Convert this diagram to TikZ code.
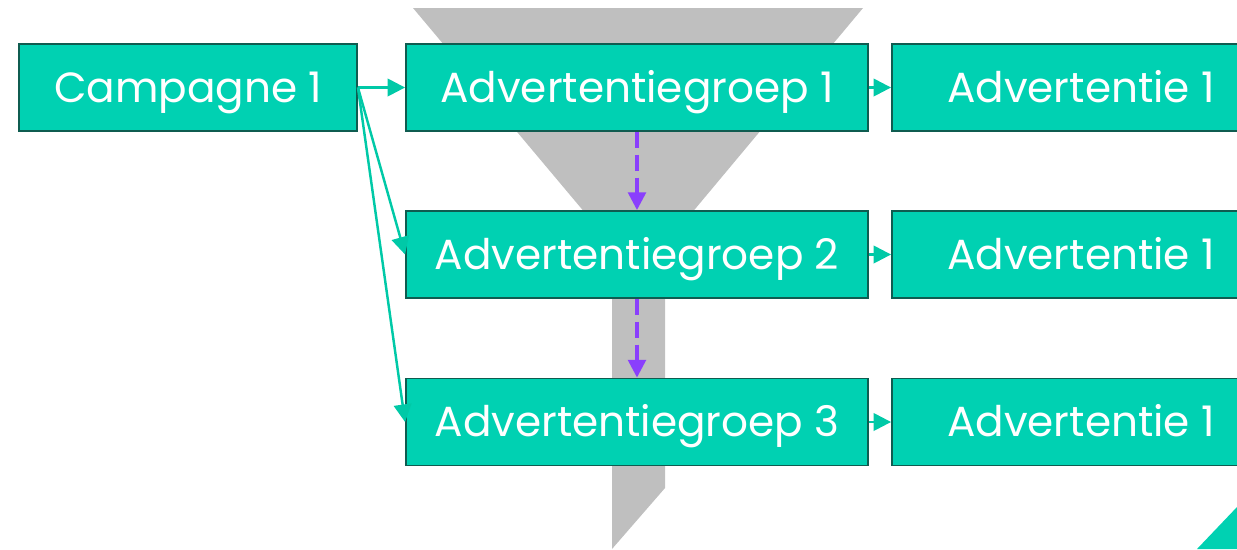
\documentclass[tikz,border=0pt]{standalone}
\usepackage{fontspec}
\setmainfont{Poppins}
\usetikzlibrary{arrows.meta}
\definecolor{boxfill}{HTML}{00D1B2}
\definecolor{boxline}{HTML}{0F5C50}
\definecolor{linkcol}{HTML}{00C9A7}
\definecolor{flowcol}{HTML}{8A3FFC}
\definecolor{funnelcol}{HTML}{BFBFBF}
\tikzset{
  level/.style={draw=boxline, line width=1.1pt, fill=boxfill, text=white,
    font=\fontsize{24}{29}\selectfont, minimum height=1.74cm, inner sep=0pt,
    text height=17pt, text depth=0pt},
  camp/.style={level, minimum width=6.76cm},
  group/.style={level, minimum width=9.24cm},
  advert/.style={level, minimum width=7.56cm},
  link/.style={draw=linkcol, line width=1.4pt, -{Triangle[length=10pt,width=10pt]}},
  flowarrow/.style={draw=flowcol, line width=1.9pt, dash pattern=on 9pt off 4pt,
    -{Triangle[length=10pt,width=10pt]}}
}
\begin{document}
\begin{tikzpicture}[x=0.02cm, y=-0.02cm]
  \clip (0,0) rectangle (1237,549);
  % funnel in the background
  \fill[funnelcol] (413,8) -- (863,8) -- (665,245) -- (665,488) -- (612,549)
    -- (612,245) -- cycle;
  % corner accent
  \fill[boxfill] (1197,549) -- (1237,507) -- (1237,549) -- cycle;

  \node[camp] (c1) at (188,87.5) {Campagne 1};
  \node[group] (g1) at (637,87.5) {Advertentiegroep 1};
  \node[group] (g2) at (637,254.5) {Advertentiegroep 2};
  \node[group] (g3) at (637,422) {Advertentiegroep 3};
  \node[advert] (a1) at (1081,87.5) {Advertentie 1};
  \node[advert] (a2) at (1081,254.5) {Advertentie 1};
  \node[advert] (a3) at (1081,422) {Advertentie 1};

  \draw[link] (c1.east) -- (g1.west);
  \draw[link] (c1.east) -- (g2.west);
  \draw[link] (c1.east) -- (g3.west);
  \draw[link] (g1.east) -- (a1.west);
  \draw[link] (g2.east) -- (a2.west);
  \draw[link] (g3.east) -- (a3.west);

  \draw[flowarrow] (g1.south) -- (g2.north);
  \draw[flowarrow] (g2.south) -- (g3.north);
\end{tikzpicture}
\end{document}
